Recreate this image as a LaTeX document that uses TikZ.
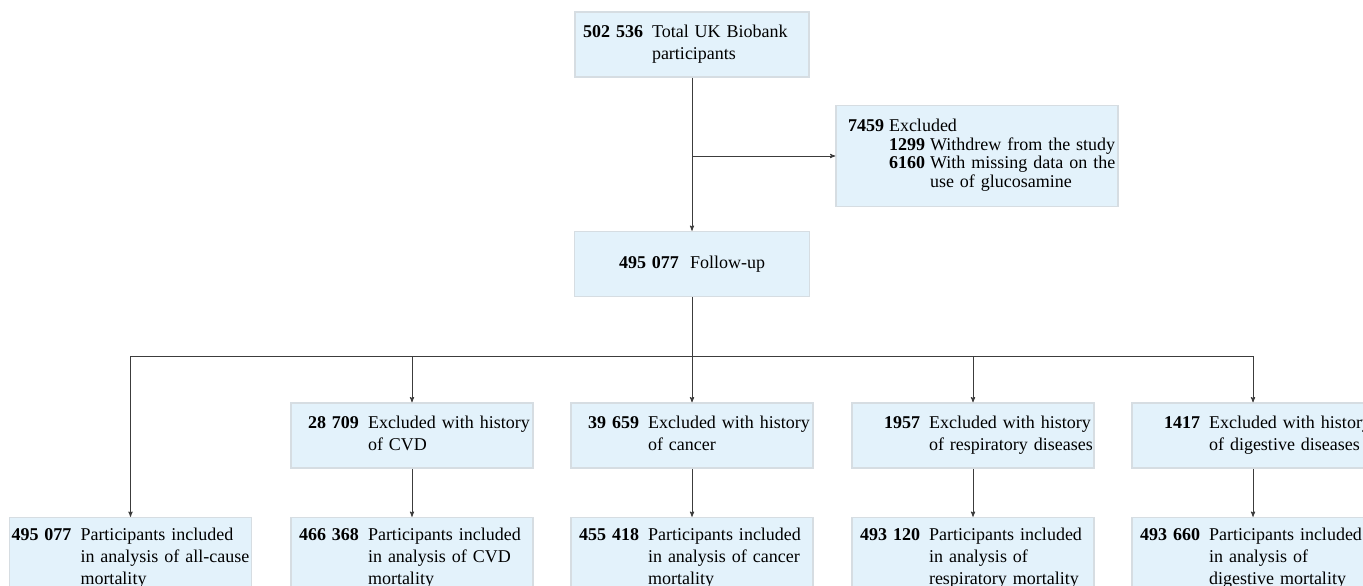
\documentclass[tikz,border=0pt]{standalone}
\usepackage{fontspec}
\setmainfont{Liberation Serif}
\usepackage{array}
\usetikzlibrary{positioning, arrows}
\definecolor{boxfill}{HTML}{E3F2FB}
\definecolor{boxline}{HTML}{D6DDE2}
\definecolor{linkline}{HTML}{3C3C3C}
\tikzset{
	box/.style={draw=boxline, fill=boxfill, line width=1.5pt, minimum width=242pt, minimum height=65pt, inner xsep=10pt, text width=222pt, align=left, font=\fontsize{18}{22}\selectfont}, % every box of the chart
	topbox/.style={minimum width=234pt, text width=214pt}, % the first box
	exclbox/.style={minimum width=282pt, text width=258pt, inner xsep=12pt, minimum height=101pt, font=\fontsize{18}{18.5}\selectfont}, % the excluded box
	followbox/.style={minimum width=235pt, text width=215pt, align=center}, % follow-up box
	inbox/.style={minimum height=82pt}, % the included boxes at the bottom
	link/.style={->, >=stealth', line width=0.9pt, draw=linkline}, % arrows between the boxes
}
% bold count, then the text with a hanging indent
\newcommand{\flowtext}[2]{\begin{tabular}{@{}>{\bfseries}r@{\hspace{9pt}}l@{}}\makebox[58pt][r]{#1} & #2\end{tabular}}

\begin{document}
\begin{tikzpicture}[x=1pt, y=-1pt]
	\clip (0,0) rectangle (1363,586);

	\node[box, topbox] (total) at (692,44.5) {\flowtext{502 536}{Total UK Biobank\\ & participants}};
	\node[box, exclbox] (excl) at (977,156) {\begin{tabular}{@{}l@{\hspace{5pt}}l@{\hspace{5pt}}l@{}}
		\textbf{7459} & \multicolumn{2}{@{}l@{}}{Excluded}\\
		& \textbf{1299} & Withdrew from the study\\
		& \textbf{6160} & With missing data on the\\
		& & use of glucosamine
	\end{tabular}};
	\node[box, followbox] (follow) at (692,264) {\textbf{495 077}\hspace{11pt}Follow-up};
	\coordinate (split) at (692,156);
	\coordinate (bar) at (692,356);

	\node[box] (cvdx) at (412,435.5) {\flowtext{28 709}{Excluded with history\\ & of CVD}};
	\node[box] (cancerx) at (692,435.5) {\flowtext{39 659}{Excluded with history\\ & of cancer}};
	\node[box] (respx) at (973,435.5) {\flowtext{1957}{Excluded with history\\ & of respiratory diseases}};
	\node[box] (digx) at (1253,435.5) {\flowtext{1417}{Excluded with history\\ & of digestive diseases}};

	\node[box, inbox] (cvdin) [below=48pt of cvdx] {\flowtext{466 368}{Participants included\\ & in analysis of CVD\\ & mortality}};
	\node[box, inbox, inner xsep=4pt, text width=234pt] (allin) [left=38pt of cvdin] {\flowtext{495 077}{Participants included\\ & in analysis of all-cause\\ & mortality}};
	\node[box, inbox] (cancerin) [below=48pt of cancerx] {\flowtext{455 418}{Participants included\\ & in analysis of cancer\\ & mortality}};
	\node[box, inbox] (respin) [below=48pt of respx] {\flowtext{493 120}{Participants included\\ & in analysis of\\ & respiratory mortality}};
	\node[box, inbox] (digin) [below=48pt of digx] {\flowtext{493 660}{Participants included\\ & in analysis of\\ & digestive mortality}};

	\draw[link] (total) -- (follow);
	\draw[link] (split) -- (excl);
	\draw[link] (follow) -- (cancerx);
	\draw[link] (bar) -| (allin);
	\draw[link] (bar) -| (cvdx);
	\draw[link] (bar) -| (respx);
	\draw[link] (bar) -| (digx);
	\foreach \a/\b in {cvdx/cvdin, cancerx/cancerin, respx/respin, digx/digin}
		\draw[link] (\a) -- (\b);
\end{tikzpicture}
\end{document}
